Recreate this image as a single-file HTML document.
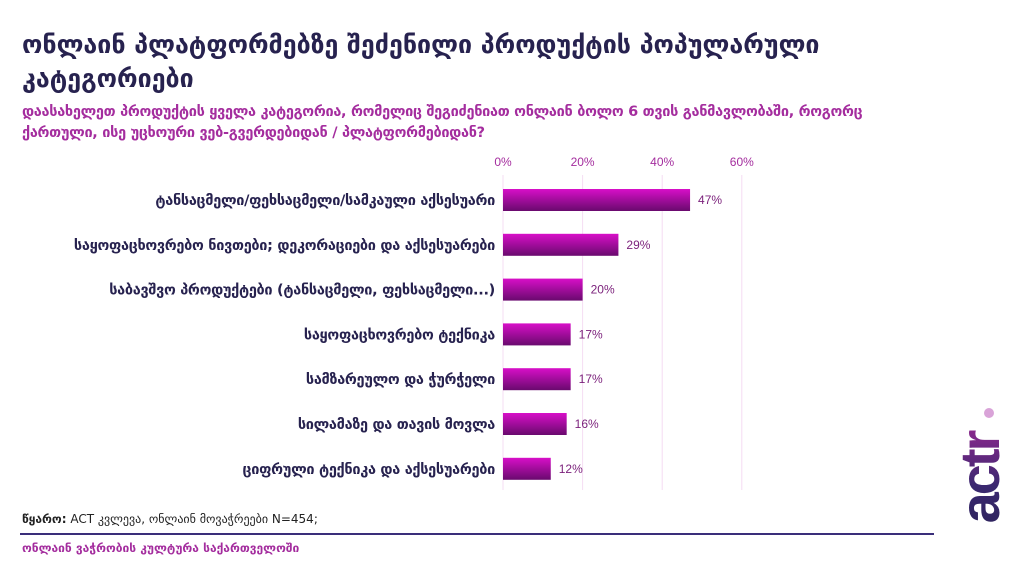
<!DOCTYPE html>
<html><head><meta charset="utf-8"><style>
body{margin:0;width:1024px;height:576px;background:#fff;position:relative;overflow:hidden;font-family:"DejaVu Sans","Liberation Sans",sans-serif}
.t{position:absolute;white-space:nowrap}
</style></head><body>
<div class="t" style="left:22px;top:28px;font-size:25px;font-weight:bold;color:#27224f;line-height:34px;letter-spacing:0px">ონლაინ პლატფორმებზე შეძენილი პროდუქტის პოპულარული<br>კატეგორიები</div>
<div class="t" style="left:22px;top:102px;font-size:14.5px;font-weight:bold;color:#a42d9e;line-height:21px;letter-spacing:-0.3px">დაასახელეთ პროდუქტის ყველა კატეგორია, რომელიც შეგიძენიათ ონლაინ ბოლო 6 თვის განმავლობაში, როგორც<br>ქართული, ისე უცხოური ვებ-გვერდებიდან / პლატფორმებიდან?</div>
<svg id="c" width="1024" height="576" style="position:absolute;left:0;top:0">
<defs><linearGradient id="g" x1="0" y1="0" x2="0" y2="1"><stop offset="0" stop-color="#d80fc8"/><stop offset="1" stop-color="#6a0a6e"/></linearGradient></defs>
</svg>
<div class="t" style="left:22px;top:512px;font-size:12px;color:#222"><b>წყარო:</b> ACT კვლევა, ონლაინ მოვაჭრეები N=454;</div>
<div style="position:absolute;left:20px;top:533px;width:914px;height:2px;background:#3a2e7a"></div>
<div class="t" style="left:22px;top:541px;font-size:12px;font-weight:bold;color:#a42d9e">ონლაინ ვაჭრობის კულტურა საქართველოში</div>
<div class="t" style="left:900px;top:450px;width:160px;text-align:center;transform:rotate(-90deg);font-family:'Liberation Sans',sans-serif;font-weight:900;font-size:56px;letter-spacing:-3px;line-height:56px;background:linear-gradient(90deg,#25204f 0%,#3a2870 45%,#b5299c 100%);-webkit-background-clip:text;color:transparent">actr</div>
<div style="position:absolute;left:984px;top:408px;width:10px;height:10px;border-radius:50%;background:#d9a3d8"></div>
<script>
const categories=["ტანსაცმელი/ფეხსაცმელი/სამკაული აქსესუარი","საყოფაცხოვრებო ნივთები; დეკორაციები და აქსესუარები","საბავშვო პროდუქტები (ტანსაცმელი, ფეხსაცმელი...)","საყოფაცხოვრებო ტექნიკა","სამზარეულო და ჭურჭელი","სილამაზე და თავის მოვლა","ციფრული ტექნიკა და აქსესუარები"];
const values=[47,29,20,17,17,16,12];
const ticks=[0,20,40,60];
const svg=document.getElementById('c');const NS='http://www.w3.org/2000/svg';
const x=v=>503+v*3.98;const y=i=>200+i*44.8;
function mk(t,a){const e=document.createElementNS(NS,t);for(const k in a)e.setAttribute(k,a[k]);svg.appendChild(e);return e;}
ticks.forEach(t=>{
 const l=mk('line',{x1:x(t),x2:x(t),y1:175,y2:490,stroke:'#f6dcf3','stroke-width':1});
 
 
 const tx=mk('text',{x:x(t),y:166,'text-anchor':'middle','font-size':12,fill:'#a42d9e','font-family':'Liberation Sans, sans-serif'});tx.textContent=t+'%';
 
 
});
categories.forEach((c,i)=>{
 const r=mk('rect',{x:x(0),y:y(i)-11,width:x(values[i])-x(0),height:22,fill:'url(#g)'});
 
 
 const v=mk('text',{x:x(values[i])+8,y:y(i)+4,'font-size':12,fill:'#7a1f7a','font-family':'Liberation Sans, sans-serif'});v.textContent=values[i]+'%';
 
 
 const lb=mk('text',{x:495,y:y(i)+5,'text-anchor':'end','font-size':14.5,'font-weight':'bold',fill:'#27224f','font-family':'DejaVu Sans, sans-serif','letter-spacing':'-0.3'});lb.textContent=c;
 
 
});
</script>
</body></html>
